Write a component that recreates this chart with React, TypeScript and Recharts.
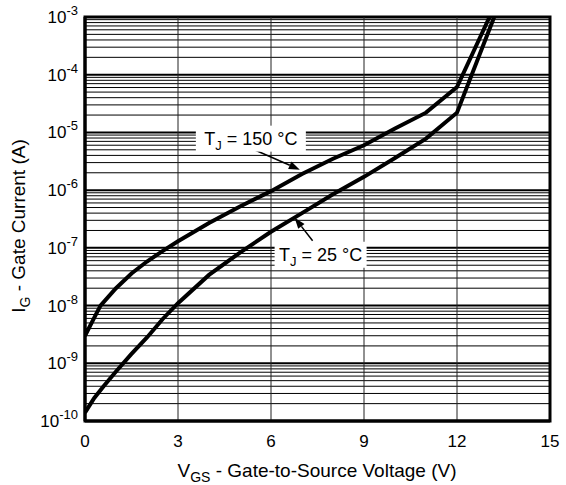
import React from 'react';
import { ComposedChart, Line, XAxis, YAxis, ReferenceLine, ReferenceArea, ReferenceDot } from 'recharts';

// gate voltage (V) vs gate current (A)
const hotVgs = [0, 0.25, 0.5, 1, 1.5, 2, 2.5, 3, 4, 5, 6, 7, 8, 9, 10, 11, 12, 13.05];
const hotIg = [3e-9, 5.5e-9, 1.0e-8, 2.0e-8, 3.6e-8, 5.8e-8, 8.8e-8, 1.3e-7, 2.7e-7, 5.2e-7, 9.6e-7, 1.9e-6, 3.5e-6, 6.0e-6, 1.17e-5, 2.2e-5, 6.1e-5, 1e-3];

const roomVgs = [0, 0.3, 0.6, 1, 1.5, 2, 2.5, 3, 4, 5, 6, 7, 8, 9, 10, 11, 12, 13.2];
const roomIg = [1.4e-10, 2.5e-10, 4.0e-10, 7.2e-10, 1.45e-9, 2.8e-9, 5.8e-9, 1.1e-8, 3.4e-8, 8.3e-8, 1.9e-7, 4.0e-7, 8.5e-7, 1.7e-6, 3.6e-6, 7.8e-6, 2.2e-5, 1e-3];

const xTicks = [0, 3, 6, 9, 12, 15];
const decades = [1e-10, 1e-9, 1e-8, 1e-7, 1e-6, 1e-5, 1e-4, 1e-3];
const minorSteps = [2, 3, 4, 5, 6, 7, 8, 9];

const hotData = hotVgs.map((v, i) => ({ v, ig: hotIg[i] }));
const roomData = roomVgs.map((v, i) => ({ v, ig: roomIg[i] }));
const minorGrid = decades.slice(0, -1).flatMap((d) => minorSteps.map((m) => d * m));

const FONT = '"Liberation Sans", Arial, sans-serif';

const YTick = ({ x, y, payload }: any) => {
  const exp = Math.round(Math.log10(payload.value));
  return (
    <text x={x + 1} y={y} dy={6} textAnchor="end" fontFamily={FONT} fontSize={17} fill="#000">
      <tspan>10</tspan>
      <tspan dy={-8} fontSize={13}>{exp}</tspan>
    </text>
  );
};

const XTick = ({ x, y, payload }: any) => (
  <text x={x} y={y} dy={18} textAnchor="middle" fontFamily={FONT} fontSize={17} fill="#000">
    {payload.value}
  </text>
);

// label box with arrow, offsets in pixels from the anchor point
const Callout = (sub: string, rest: string, w: number, arrow: [number, number, number, number]) => (props: any) => {
  const { cx, cy } = props;
  const [ax1, ay1, ax2, ay2] = arrow;
  const x1 = cx + ax1, y1 = cy + ay1, x2 = cx + ax2, y2 = cy + ay2;
  const ang = Math.atan2(y2 - y1, x2 - x1);
  const len = 11, half = 4;
  const bx = x2 - len * Math.cos(ang), by = y2 - len * Math.sin(ang);
  const p1 = `${bx + half * Math.sin(ang)},${by - half * Math.cos(ang)}`;
  const p2 = `${bx - half * Math.sin(ang)},${by + half * Math.cos(ang)}`;
  return (
    <g>
      <line x1={x1} y1={y1} x2={bx} y2={by} stroke="#000" strokeWidth={1.5} />
      <polygon points={`${x2},${y2} ${p1} ${p2}`} fill="#000" />
      <rect x={cx - w / 2} y={cy - 13} width={w} height={26} fill="#fff" />
      <text x={cx} y={cy} dy={6} textAnchor="middle" fontFamily={FONT} fontSize={18} fill="#000">
        <tspan>T</tspan>
        <tspan dy={5} fontSize={13}>{sub}</tspan>
        <tspan dy={-5}>{rest}</tspan>
      </text>
    </g>
  );
};

export default function App() {
  return (
    <div style={{ position: 'absolute', left: 0, top: 0, width: 566, height: 485, background: '#fff' }}>
      <ComposedChart width={566} height={485} margin={{ top: 17, right: 16, bottom: 34, left: 25 }}>
        <XAxis
          dataKey="v"
          type="number"
          domain={[0, 15]}
          ticks={xTicks}
          allowDataOverflow
          tickLine={false}
          axisLine={{ stroke: '#000', strokeWidth: 3 }}
          tick={<XTick />}
          height={30}
          label={{
            value: 'V',
            position: 'insideBottom',
            content: () => (
              <text x={317} y={477} textAnchor="middle" fontFamily={FONT} fontSize={19} fill="#000">
                <tspan>V</tspan>
                <tspan dy={5} fontSize={14}>GS</tspan>
                <tspan dy={-5}> - Gate-to-Source Voltage (V)</tspan>
              </text>
            ),
          }}
        />
        <YAxis
          dataKey="ig"
          type="number"
          scale="log"
          domain={[1e-10, 1e-3]}
          ticks={decades}
          allowDataOverflow
          tickLine={false}
          axisLine={{ stroke: '#000', strokeWidth: 3 }}
          tick={<YTick />}
          width={60}
          label={{
            value: 'I',
            content: () => (
              <text x={25} y={226} transform="rotate(-90 25 226)" textAnchor="middle" fontFamily={FONT} fontSize={19} fill="#000">
                <tspan>I</tspan>
                <tspan dy={5} fontSize={14}>G</tspan>
                <tspan dy={-5}> - Gate Current (A)</tspan>
              </text>
            ),
          }}
        />
        {minorGrid.map((g) => (
          <ReferenceLine key={`m${g}`} y={g} stroke="#000" strokeWidth={1} />
        ))}
        {decades.map((d) => (
          <ReferenceLine key={`d${d}`} y={d} stroke="#000" strokeWidth={2} />
        ))}
        {xTicks.slice(1, -1).map((t) => (
          <ReferenceLine key={`x${t}`} x={t} stroke="#222" strokeWidth={1} />
        ))}
        <Line data={hotData} dataKey="ig" stroke="#000" strokeWidth={4} dot={false} isAnimationActive={false} type="linear" />
        <Line data={roomData} dataKey="ig" stroke="#000" strokeWidth={4} dot={false} isAnimationActive={false} type="linear" />
        <ReferenceArea x1={0} x2={15} y1={1e-10} y2={1e-3} fill="none" stroke="#000" strokeWidth={3} />
        <ReferenceDot x={5.35} y={7.8e-6} r={0} shape={Callout('J', ' = 150 °C', 110, [1, 10, 49, 31])} />
        <ReferenceDot x={7.6} y={7.6e-8} r={0} shape={Callout('J', ' = 25 °C', 92, [-8, -14, -26, -37])} />
      </ComposedChart>
    </div>
  );
}
